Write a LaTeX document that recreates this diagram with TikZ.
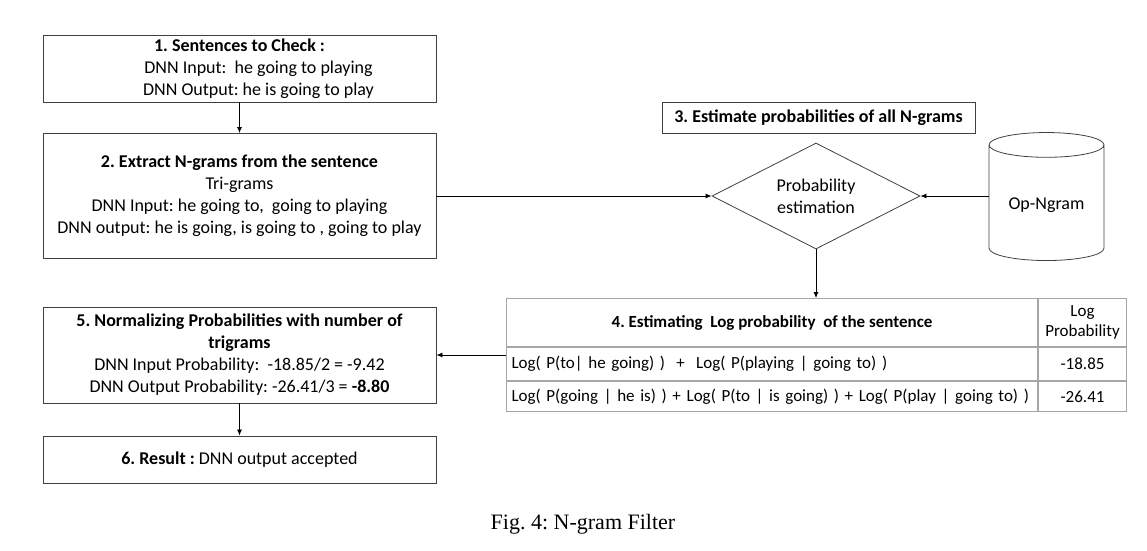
\documentclass[tikz,border=0pt]{standalone}
\usepackage{fontspec}
\setmainfont{Carlito}
\newfontfamily\capfont{Liberation Serif}
\usepackage{tikz}
\usetikzlibrary{shapes.geometric,arrows.meta,positioning}
\definecolor{edgegray}{gray}{0.25}
\definecolor{gridgray}{gray}{0.65}
\frenchspacing

\begin{document}
\begin{tikzpicture}[x=1pt,y=-1pt,
  stepbox/.style={draw=edgegray,line width=0.9pt,minimum width=393pt,align=center,inner sep=0pt,font=\fontsize{18}{22}\selectfont},
  cell/.style={draw=gridgray,line width=1pt,inner sep=0pt,anchor=north west,font=\fontsize{17}{20}\selectfont},
  flow/.style={-{Latex[length=6pt,width=5pt]},line width=0.8pt}]
\useasboundingbox (0,0) rectangle (1147,550);

% left column
\node[stepbox,minimum height=67pt] (check) at (239.5,68.5)
  {\textbf{1. Sentences to Check :}\\\hspace*{38pt}DNN Input:\ \ he going to playing\\\hspace*{38pt}DNN Output: he is going to play};
\node[stepbox,minimum height=125pt] (extract) at (239.5,196)
  {\textbf{2. Extract N-grams from the sentence}\\Tri-grams\\DNN Input: he going to,\ \ going to playing\\DNN output: he is going, is going to , going to play};
\node[stepbox,minimum height=96pt] (norm) at (239.5,355)
  {\textbf{5. Normalizing Probabilities with number of}\\\textbf{trigrams}\\DNN Input Probability:\ \ -18.85/2 = -9.42\\DNN Output Probability: -26.41/3 = \textbf{-8.80}};
\node[stepbox,minimum height=47pt] (result) at (239.5,459.5)
  {\textbf{6. Result :} DNN output accepted};

% estimation
\node[draw=edgegray,line width=0.9pt,minimum width=313pt,minimum height=31pt,inner sep=0pt,font=\bfseries\fontsize{18}{22}\selectfont] (stage) at (818.5,117.5)
  {3. Estimate probabilities of all N-grams};
\node[draw=edgegray,line width=0.8pt,diamond,aspect=2,minimum width=208pt,minimum height=106pt,inner sep=0pt,align=center,font=\fontsize{18}{22}\selectfont] (estim) at (816,196)
  {Probability\\estimation};
\node[draw=edgegray,line width=0.8pt,cylinder,shape border rotate=90,aspect=0.3,minimum width=115pt,minimum height=128pt,font=\fontsize{18}{22}\selectfont] (ngramdb) at (1046.5,205)
  {\raisebox{-4pt}{Op-Ngram}};

% table
\node[cell,minimum width=531pt,minimum height=48pt] (hdrA) at (506,298)
  {\textbf{4. Estimating\ \ Log probability\ \ of the sentence}};
\node[cell,minimum width=88pt,minimum height=48pt,align=center] (hdrB) at (hdrA.north east)
  {Log\\Probability};
\node[cell,minimum height=33pt,text width=521pt,inner xsep=5pt] (rowA1) at (hdrA.south west)
  {Log( P(to| he going) )\ \ +\ \ Log( P(playing | going to) )};
\node[cell,minimum width=88pt,minimum height=33pt] (rowA2) at (rowA1.north east) {-18.85};
\node[cell,minimum height=30pt,text width=521pt,inner xsep=5pt] (rowB1) at (rowA1.south west)
  {Log( P(going | he is) ) + Log( P(to | is going) ) + Log( P(play | going to) )};
\node[cell,minimum width=88pt,minimum height=30pt] (rowB2) at (rowB1.north east) {-26.41};

\draw[flow] (check) -- (extract);
\draw[flow] (extract.east) -- (estim.west);
\draw[flow] (estim.east -| ngramdb.west) -- (estim.east);
\draw[flow] (estim.south) -- (estim.south |- hdrA.north);
\draw[flow] (rowA1.west |- norm.east) -- (norm.east);
\draw[flow] (norm) -- (result);

\node[font=\capfont\fontsize{22}{26}\selectfont] (caption) at (583,524) {Fig. 4: N-gram Filter};
\end{tikzpicture}
\end{document}
